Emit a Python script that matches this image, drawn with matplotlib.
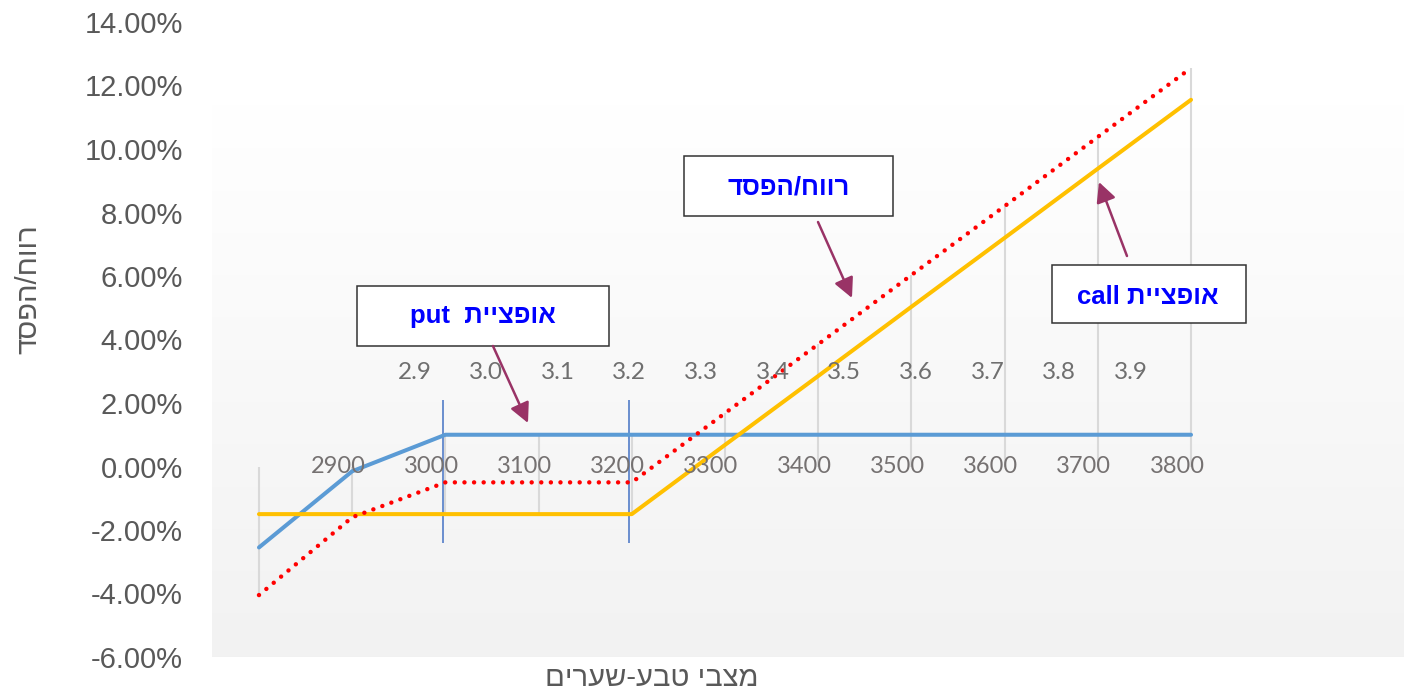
import re
import numpy as np
import matplotlib
matplotlib.use('Agg')
from matplotlib import pyplot as plt
from matplotlib import transforms
from matplotlib.patches import Rectangle

# data (profit/loss in percent)
categories = ['2800', '2900', '3000', '3100', '3200', '3300',
              '3400', '3500', '3600', '3700', '3800']
cat_labels = ['', '2900', '3000', '3100', '3200', '3300',
              '3400', '3500', '3600', '3700', '3800']
put_pl = [-2.55, -0.15, 1.0, 1.0, 1.0, 1.0, 1.0, 1.0, 1.0, 1.0, 1.0]
call_pl = [-1.5, -1.5, -1.5, -1.5, -1.5, 0.68, 2.85, 5.03, 7.2, 9.38, 11.55]
total_pl = [-4.05, -1.6, -0.5, -0.5, -0.5, 1.68, 3.85, 6.03, 8.2, 10.38, 12.55]
rate_values = [2.9, 3.0, 3.1, 3.2, 3.3, 3.4, 3.5, 3.6, 3.7, 3.8, 3.9]
rate_labels = ['2.9', '3.0', '3.1', '3.2', '3.3', '3.4', '3.5', '3.6', '3.7', '3.8', '3.9']
y_ticks = [-6, -4, -2, 0, 2, 4, 6, 8, 10, 12, 14]
strike_idx = [2, 4]

y_title = 'רווח/הפסד'
x_title = 'מצבי טבע-שערים'
put_note = 'אופציית  put'
call_note = 'אופציית call'
pl_note = 'רווח/הפסד'


def visual(s):
    # matplotlib has no bidi, so lay the Hebrew out right-to-left by hand
    r = s[::-1]
    return re.sub(r'[A-Za-z0-9.%]+', lambda m: m.group(0)[::-1], r)


heb = ['Liberation Sans', 'DejaVu Sans']
plt.rcParams['font.family'] = heb

fig = plt.figure(figsize=(14.04, 6.92), dpi=100)
ax = fig.add_axes([212 / 1404, 35 / 692, 1192 / 1404, 635 / 692])
ax.patch.set_visible(False)
for s in ax.spines.values():
    s.set_visible(False)

x = np.arange(len(categories))

# gradient plot area
grad = np.linspace(1.0, 0.949, 256)
img = np.dstack([grad, grad, grad]).reshape(256, 1, 3)
ax.imshow(img, extent=(0, 1, 0, 552 / 635), transform=ax.transAxes,
          aspect='auto', zorder=0, interpolation='bicubic')

# drop lines from the axis to each point
allv = np.array([put_pl, call_pl, total_pl])
ax.vlines(x, np.minimum(0, allv.min(axis=0)), np.maximum(0, allv.max(axis=0)),
          color='#D9D9D9', lw=1.5, zorder=1)

ax.plot(x, put_pl, color='#5B9BD5', lw=2.9, zorder=3, solid_capstyle='round')
ax.plot(x, call_pl, color='#FFC000', lw=2.9, zorder=3, solid_capstyle='round')
ax.plot(x, total_pl, color='#FF0000', lw=3.2, zorder=4,
        linestyle=(0, (0.01, 2.15)), dash_capstyle='round')

# strike markers
ax.vlines([x[i] - 0.03 for i in strike_idx], -2.4, 2.1, color='#4472C4', lw=1.1, zorder=2)

ax.set_xlim(-0.504, 12.285)
ax.set_ylim(-6, 14)
ax.set_xticks([])
ax.set_yticks(y_ticks)
ax.set_yticklabels(['{:.2f}%'.format(v) for v in y_ticks])
ax.tick_params(axis='y', length=0, pad=21, labelsize=21, labelcolor='#595959')
for lbl in ax.get_yticklabels():
    lbl.set_family('Liberation Sans')

# category labels sitting on the zero line
off = transforms.offset_copy(ax.transData, fig=fig, x=-14, y=0, units='dots')
for xi, lab in zip(x, cat_labels):
    ax.text(xi, 0, lab, transform=off, ha='center', va='center',
            fontsize=17, color='#757171', family='Lato', zorder=5)

# secondary exchange-rate scale
ax2 = ax.twiny()
ax2.set_xlim(2.6177, 4.2809)
ax2.axis('off')
sec = transforms.blended_transform_factory(ax2.transData, ax.transData)
for v, lab in zip(rate_values, rate_labels):
    ax.text(v, 2.96, lab, transform=sec, ha='center', va='center',
            fontsize=17.5, color='#6F6F6F', family='Lato', zorder=5)


def note(x0, x1, y0, y1, text, tx, ty):
    ax.add_patch(Rectangle((x0, y0), x1 - x0, y1 - y0, transform=ax.transAxes,
                           fc='white', ec='#333333', lw=1.1, zorder=6, clip_on=False))
    ax.text(tx, ty, visual(text), transform=ax.transAxes, ha='center', va='center',
            fontsize=18.5, fontweight='bold', color='#0000FF', zorder=7, family=heb)


def arrow(sx, sy, ex, ey):
    ax.annotate('', xy=(ex, ey), xycoords='axes fraction', xytext=(sx, sy),
                textcoords='axes fraction', zorder=8,
                arrowprops=dict(arrowstyle='-|>,head_length=0.6,head_width=0.3',
                                mutation_scale=20, color='#993366', lw=1.8,
                                shrinkA=0, shrinkB=0))


note(0.1216, 0.3331, 0.4898, 0.5843, put_note, 0.2273, 0.537)
arrow(0.2357, 0.4898, 0.2651, 0.3685)
note(0.3960, 0.5713, 0.6945, 0.7890, pl_note, 0.4840, 0.7386)
arrow(0.5084, 0.6850, 0.5369, 0.5654)
note(0.7047, 0.8674, 0.5260, 0.6173, call_note, 0.7852, 0.5669)
arrow(0.7676, 0.6315, 0.7441, 0.7480)

fig.text(28 / 1404, 1 - 289 / 692, visual(y_title), rotation=90, ha='center', va='center',
         fontsize=21, color='#595959', family=heb)
fig.text(652 / 1404, 1 - 678 / 692, visual(x_title), ha='center', va='center',
         fontsize=21, color='#595959', family=heb)

fig.savefig('out.png', dpi=100)
